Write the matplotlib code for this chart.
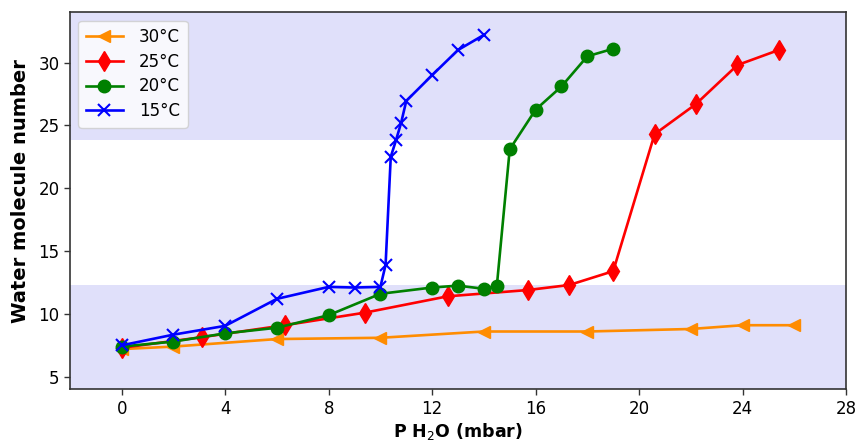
import matplotlib
matplotlib.use("Agg")
import matplotlib.pyplot as plt

# Data
x30 = [0, 2, 6, 10, 14, 18, 22, 24, 26]
y30 = [7.2, 7.4, 8.0, 8.1, 8.6, 8.6, 8.8, 9.1, 9.1]

x25 = [0, 3.1, 6.3, 9.4, 12.6, 15.7, 17.3, 19.0, 20.6, 22.2, 23.8, 25.4]
y25 = [7.3, 8.15, 9.1, 10.1, 11.4, 11.9, 12.3, 13.4, 24.3, 26.7, 29.8, 31.0]

x20 = [0, 2, 4, 6, 8, 10, 12, 13, 14, 14.5, 15, 16, 17, 18, 19]
y20 = [7.4, 7.8, 8.45, 8.9, 9.9, 11.6, 12.1, 12.25, 12.0, 12.2, 23.1, 26.25, 28.1, 30.5, 31.1]

x15 = [0, 2, 4, 6, 8, 9, 10, 10.2, 10.4, 10.6, 10.8, 11, 12, 13, 14]
y15 = [7.5, 8.35, 9.05, 11.2, 12.15, 12.1, 12.15, 13.9, 22.5, 23.8, 25.2, 26.95, 29.0, 31.0, 32.2]

bands = [(0, 12.3), (23.8, 40)]
xticks = [0, 4, 8, 12, 16, 20, 24, 28]
yticks = [5, 10, 15, 20, 25, 30]

fig = plt.figure(figsize=(8.56, 4.43), dpi=100)
ax = fig.add_axes([0.0818, 0.1212, 0.9065, 0.851])

for lo, hi in bands:
    ax.axhspan(lo, hi, color=(0.878, 0.878, 0.98), lw=0, zorder=0)

ax.plot(x30, y30, color='darkorange', marker='<', ms=9, lw=1.9, label='30°C')
ax.plot(x25, y25, color='red', marker='d', ms=10, lw=1.9, label='25°C')
ax.plot(x20, y20, color='green', marker='o', ms=9, lw=1.9, label='20°C')
ax.plot(x15, y15, color='blue', marker='x', ms=9, mew=1.5, lw=1.9, label='15°C')

ax.set_xlim(-2, 28)
ax.set_ylim(4, 34)
ax.set_xticks(xticks)
ax.set_yticks(yticks)
ax.tick_params(labelsize=12, length=4, width=1, color='#333333')
for s in ax.spines.values():
    s.set_color('#333333')
    s.set_linewidth(1.2)

ax.set_xlabel('P H$_2$O (mbar)', fontsize=12.5, fontweight='bold', labelpad=2)
ax.set_ylabel('Water molecule number', fontsize=14, fontweight='bold')
ax.yaxis.set_label_coords(-0.052, 0.525)

leg = ax.legend(loc='upper left', fontsize=12, handlelength=2.2, borderpad=0.45,
                labelspacing=0.4, handletextpad=1.0)

fig.savefig('out.png', dpi=100)
